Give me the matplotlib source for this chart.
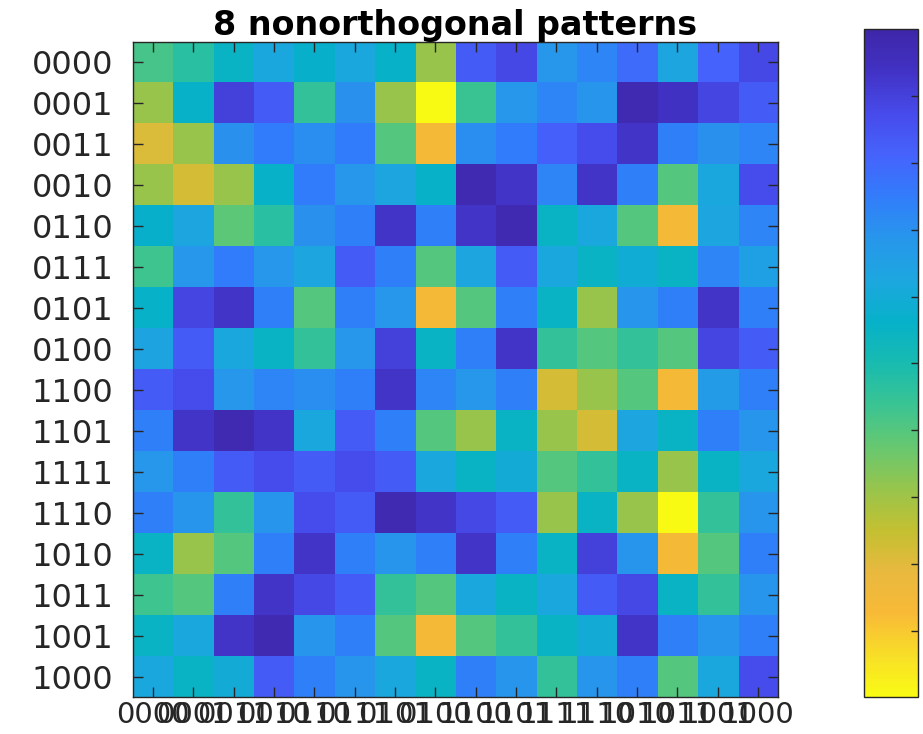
import numpy as np
import matplotlib
matplotlib.use("Agg")
import matplotlib.pyplot as plt
from matplotlib.colors import LinearSegmentedColormap

# Gray-code ordered labels
labels = ["0000", "0001", "0011", "0010", "0110", "0111", "0101", "0100",
          "1100", "1101", "1111", "1110", "1010", "1011", "1001", "1000"]

# cell values (0 = dark blue, 1 = yellow)
row_0000 = [0.58, 0.53, 0.45, 0.38, 0.43, 0.38, 0.44, 0.69, 0.17, 0.12, 0.32, 0.27, 0.21, 0.37, 0.19, 0.12]
row_0001 = [0.69, 0.44, 0.10, 0.17, 0.55, 0.30, 0.69, 1.00, 0.56, 0.32, 0.27, 0.31, 0.02, 0.06, 0.11, 0.17]
row_0011 = [0.79, 0.69, 0.30, 0.25, 0.29, 0.25, 0.60, 0.86, 0.29, 0.25, 0.18, 0.13, 0.07, 0.26, 0.30, 0.27]
row_0010 = [0.69, 0.78, 0.69, 0.44, 0.25, 0.32, 0.37, 0.44, 0.02, 0.07, 0.27, 0.07, 0.26, 0.60, 0.38, 0.13]
row_0110 = [0.43, 0.37, 0.61, 0.53, 0.30, 0.26, 0.07, 0.26, 0.07, 0.02, 0.45, 0.38, 0.60, 0.86, 0.37, 0.27]
row_0111 = [0.57, 0.32, 0.25, 0.32, 0.37, 0.17, 0.26, 0.60, 0.37, 0.17, 0.38, 0.45, 0.41, 0.45, 0.27, 0.35]
row_0101 = [0.44, 0.11, 0.07, 0.26, 0.60, 0.26, 0.32, 0.86, 0.60, 0.26, 0.45, 0.69, 0.31, 0.26, 0.07, 0.26]
row_0100 = [0.36, 0.17, 0.38, 0.45, 0.55, 0.32, 0.10, 0.45, 0.26, 0.07, 0.55, 0.60, 0.55, 0.60, 0.11, 0.17]
row_1100 = [0.17, 0.13, 0.32, 0.27, 0.29, 0.26, 0.07, 0.27, 0.32, 0.26, 0.78, 0.69, 0.60, 0.86, 0.33, 0.26]
row_1101 = [0.26, 0.07, 0.02, 0.07, 0.38, 0.17, 0.26, 0.60, 0.69, 0.45, 0.69, 0.78, 0.37, 0.45, 0.26, 0.31]
row_1111 = [0.32, 0.26, 0.17, 0.13, 0.17, 0.13, 0.17, 0.38, 0.45, 0.40, 0.60, 0.55, 0.45, 0.69, 0.45, 0.38]
row_1110 = [0.26, 0.31, 0.55, 0.31, 0.13, 0.17, 0.02, 0.07, 0.12, 0.17, 0.69, 0.45, 0.69, 1.00, 0.55, 0.31]
row_1010 = [0.45, 0.69, 0.60, 0.26, 0.07, 0.26, 0.31, 0.26, 0.07, 0.26, 0.45, 0.10, 0.31, 0.86, 0.60, 0.26]
row_1011 = [0.57, 0.60, 0.26, 0.07, 0.12, 0.17, 0.55, 0.60, 0.38, 0.45, 0.38, 0.17, 0.12, 0.45, 0.55, 0.31]
row_1001 = [0.45, 0.38, 0.07, 0.02, 0.31, 0.26, 0.60, 0.86, 0.60, 0.55, 0.45, 0.40, 0.07, 0.26, 0.31, 0.26]
row_1000 = [0.38, 0.45, 0.40, 0.17, 0.26, 0.31, 0.38, 0.45, 0.26, 0.31, 0.55, 0.31, 0.26, 0.60, 0.38, 0.13]

grid = np.array([row_0000, row_0001, row_0011, row_0010, row_0110, row_0111,
                 row_0101, row_0100, row_1100, row_1101, row_1111, row_1110,
                 row_1010, row_1011, row_1001, row_1000])

# parula-like colormap
parula_pts = [
    (0.2422, 0.1504, 0.6603), (0.2586, 0.1987, 0.7740), (0.2783, 0.2949, 0.9212),
    (0.2728, 0.3880, 0.9888), (0.1938, 0.4883, 0.9823), (0.1540, 0.5902, 0.9218),
    (0.1113, 0.6555, 0.8754), (0.0265, 0.6937, 0.7904), (0.0941, 0.7346, 0.6886),
    (0.2276, 0.7677, 0.5769), (0.3992, 0.7843, 0.4415), (0.5914, 0.7708, 0.3027),
    (0.7628, 0.7526, 0.1934), (0.9085, 0.7252, 0.2451), (0.9737, 0.7265, 0.2159),
    (0.9735, 0.8681, 0.1570), (0.9769, 0.9839, 0.0805),
]
parula = LinearSegmentedColormap.from_list("parula", parula_pts, N=256)

fig = plt.figure(figsize=(9.23, 7.34), dpi=100)
ax = fig.add_axes([0.144, 0.050, 0.699, 0.893])
im = ax.imshow(grid, cmap=parula, vmin=0, vmax=1, aspect="auto", interpolation="nearest")

ax.set_xticks(range(16))
ax.set_yticks(range(16))
ax.set_xticklabels(labels, fontsize=21, color="#262626")
ax.set_yticklabels(labels, fontsize=23, color="#262626")
ax.tick_params(axis="both", direction="in", length=7, width=1, color="#262626",
               top=True, right=True)
ax.tick_params(axis="y", pad=14)
ax.tick_params(axis="x", pad=3)
for s in ax.spines.values():
    s.set_color("#262626")
    s.set_linewidth(1)

ax.set_title("8 nonorthogonal patterns", fontsize=24, fontweight="bold",
             family="DejaVu Sans", pad=5)

# colorbar, dark end on top
cax = fig.add_axes([0.936, 0.050, 0.0585, 0.910])
cb = fig.colorbar(im, cax=cax)
cax.invert_yaxis()
cb.set_ticks(np.linspace(0.1, 0.9, 9))
cax.tick_params(direction="in", length=5, width=1, color="#262626", labelright=False)
cb.outline.set_edgecolor("#262626")
cb.outline.set_linewidth(1)

fig.savefig("out.png", dpi=100)
